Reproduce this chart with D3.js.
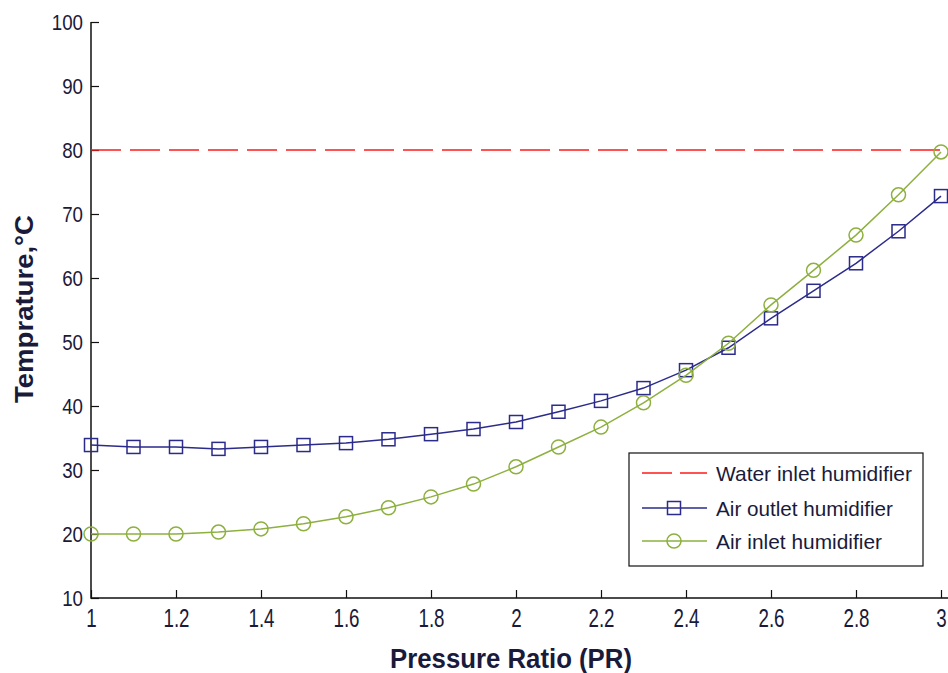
<!DOCTYPE html>
<html><head><meta charset="utf-8">
<script src="https://cdn.jsdelivr.net/npm/d3@7"></script>
<style>body{margin:0;background:#fff}svg{display:block}
text{font-family:"Liberation Sans",Arial,sans-serif;fill:#1a1a3a}</style>
</head><body><svg id="c" width="948" height="673"></svg>
<script>
const pressureRatio = [1.0,1.1,1.2,1.3,1.4,1.5,1.6,1.7,1.8,1.9,2.0,2.1,2.2,2.3,2.4,2.5,2.6,2.7,2.8,2.9,3.0];
const airOutlet = [33.9,33.6,33.6,33.3,33.6,33.9,34.2,34.8,35.6,36.4,37.5,39.1,40.8,42.8,45.6,49.1,53.7,58.0,62.3,67.3,72.8];
const airInlet = [20.0,20.0,20.0,20.3,20.8,21.6,22.7,24.1,25.8,27.8,30.5,33.6,36.7,40.5,44.8,49.8,55.8,61.2,66.7,73.0,79.7];
const waterInlet = 80;
const xTicks = [1,1.2,1.4,1.6,1.8,2,2.2,2.4,2.6,2.8,3];
const yTicks = [10,20,30,40,50,60,70,80,90,100];
const legendLabels = ["Water inlet humidifier","Air outlet humidifier","Air inlet humidifier"];

const svg = d3.select("#c");
const x = d3.scaleLinear().domain([1,3]).range([91,941]);
const y = d3.scaleLinear().domain([10,100]).range([598,22]);
const blue = "#2b2b8c", green = "#8db03f", red = "#ff1a1a";

// axes
const xAxis = d3.axisBottom(x).tickValues(xTicks).tickSize(-8).tickFormat(d3.format("~g"));
const gx = svg.append("g").attr("transform","translate(0,598)").call(xAxis);
gx.selectAll(".tick line").attr("stroke","#111").attr("stroke-width",1.2);
gx.selectAll(".tick text").attr("font-size",25).attr("y",0).attr("dy",0)
  .attr("transform","translate(0,29) scale(0.75,1)");
const yAxis = d3.axisLeft(y).tickValues(yTicks).tickSize(-8);
const gy = svg.append("g").attr("transform","translate(91,0)").call(yAxis);
gy.selectAll(".tick line").attr("stroke","#111").attr("stroke-width",1.2);
gy.selectAll(".tick text").attr("font-size",22).attr("x",0).attr("dy","0.35em")
  .attr("transform","translate(-8,0) scale(0.85,1)");
svg.selectAll(".domain").remove();
svg.append("path").attr("d",`M${x(1)},${y(100)}V${y(10)}H${x(3)+7}`).attr("fill","none").attr("stroke","#111").attr("stroke-width",1.5);

// titles
svg.append("text").attr("x",511).attr("y",668).attr("text-anchor","middle")
  .attr("font-size",27).attr("font-weight","bold").attr("textLength",242).attr("lengthAdjust","spacingAndGlyphs")
  .text("Pressure Ratio (PR)");
svg.append("text").attr("transform","translate(33,309) rotate(-90)").attr("text-anchor","middle")
  .attr("font-size",26).attr("font-weight","bold").attr("textLength",188).attr("lengthAdjust","spacingAndGlyphs")
  .text("Temprature,°C");

// water inlet line
svg.append("line").attr("x1",x(1)).attr("x2",x(3)).attr("y1",y(waterInlet)).attr("y2",y(waterInlet))
  .attr("stroke",red).attr("stroke-width",1.5).attr("stroke-dasharray","30,9");

const line = d3.line().x(d=>x(d[0])).y(d=>y(d[1]));
const outData = pressureRatio.map((p,i)=>[p,airOutlet[i]]);
const inData = pressureRatio.map((p,i)=>[p,airInlet[i]]);

svg.append("path").datum(outData).attr("d",line).attr("fill","none").attr("stroke",blue).attr("stroke-width",1.5);
svg.selectAll(".sq").data(outData).enter().append("rect")
  .attr("x",d=>x(d[0])-6.5).attr("y",d=>y(d[1])-6.5).attr("width",13).attr("height",13)
  .attr("fill","none").attr("stroke",blue).attr("stroke-width",1.5);

svg.append("path").datum(inData).attr("d",line).attr("fill","none").attr("stroke",green).attr("stroke-width",1.5);
svg.selectAll(".ci").data(inData).enter().append("circle")
  .attr("cx",d=>x(d[0])).attr("cy",d=>y(d[1])).attr("r",7)
  .attr("fill","none").attr("stroke",green).attr("stroke-width",1.5);

// legend
const lg = svg.append("g");
lg.append("rect").attr("x",629).attr("y",453).attr("width",294).attr("height",113)
  .attr("fill","#fff").attr("stroke","#111").attr("stroke-width",1.2);
const rows = [473,508,541];
lg.append("line").attr("x1",642).attr("x2",707).attr("y1",rows[0]).attr("y2",rows[0])
  .attr("stroke",red).attr("stroke-width",1.5).attr("stroke-dasharray","30,8");
lg.append("line").attr("x1",642).attr("x2",707).attr("y1",rows[1]).attr("y2",rows[1]).attr("stroke",blue).attr("stroke-width",1.5);
lg.append("rect").attr("x",674-6.5).attr("y",rows[1]-6.5).attr("width",13).attr("height",13).attr("fill","none").attr("stroke",blue).attr("stroke-width",1.5);
lg.append("line").attr("x1",642).attr("x2",707).attr("y1",rows[2]).attr("y2",rows[2]).attr("stroke",green).attr("stroke-width",1.5);
lg.append("circle").attr("cx",674).attr("cy",rows[2]).attr("r",7).attr("fill","none").attr("stroke",green).attr("stroke-width",1.5);
const lw = [196,177,166];
legendLabels.forEach((t,i)=>{
  lg.append("text").attr("x",716).attr("y",rows[i]).attr("dy","0.36em").attr("font-size",21)
    .attr("textLength",lw[i]).attr("lengthAdjust","spacingAndGlyphs").text(t);
});
</script></body></html>
